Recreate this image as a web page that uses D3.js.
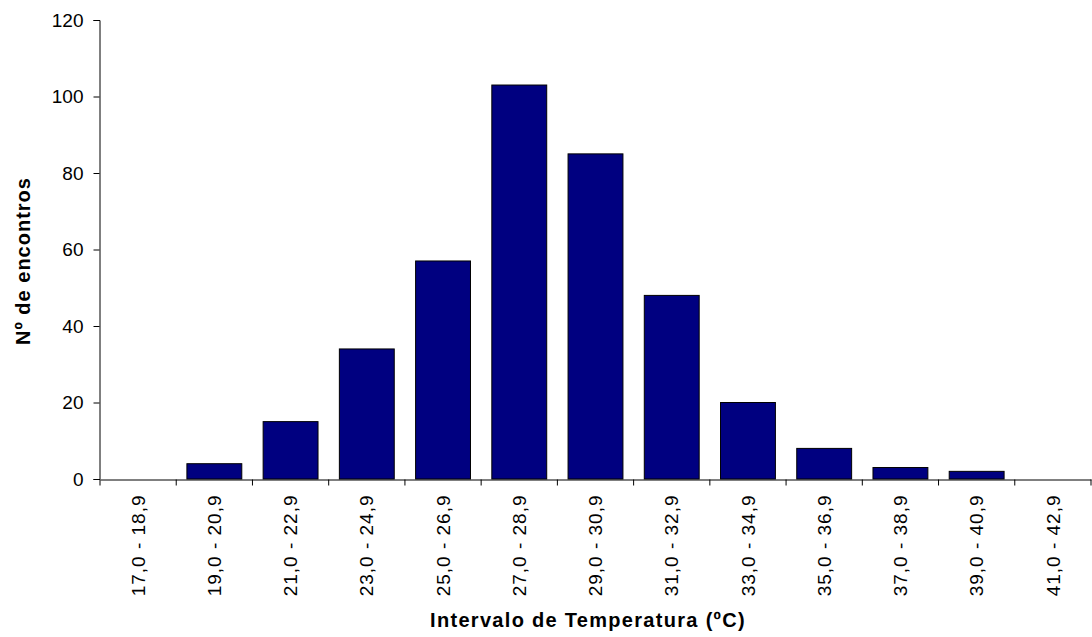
<!DOCTYPE html>
<html>
<head>
<meta charset="utf-8">
<script src="https://cdn.jsdelivr.net/npm/d3@7"></script>
<style>
  body { margin: 0; background: #fff; }
  svg { font-family: "Liberation Sans", Arial, sans-serif; }
</style>
</head>
<body>
<svg></svg>
<script>
// intervals of temperature and number of encounters
const intervals = ["17,0 - 18,9", "19,0 - 20,9", "21,0 - 22,9", "23,0 - 24,9", "25,0 - 26,9",
    "27,0 - 28,9", "29,0 - 30,9", "31,0 - 32,9", "33,0 - 34,9", "35,0 - 36,9",
    "37,0 - 38,9", "39,0 - 40,9", "41,0 - 42,9"];
const encontros = [0, 4, 15, 34, 57, 103, 85, 48, 20, 8, 3, 2, 0];
const yTicks = [0, 20, 40, 60, 80, 100, 120];

const width = 1092, height = 637;
const margin = { top: 20, right: 1, bottom: 158, left: 100 };

const svg = d3.select("svg").attr("width", width).attr("height", height);
const g = svg.append("g").attr("transform", `translate(${margin.left},${margin.top})`);

const w = width - margin.left - margin.right;
const h = height - margin.top - margin.bottom;

const x = d3.scaleBand().domain(intervals).range([0, w]).paddingInner(0.28).paddingOuter(0.14);
const y = d3.scaleLinear().domain([0, 120]).range([h, 0]);

// bars
g.selectAll("rect.bar")
    .data(encontros)
    .join("rect")
    .attr("class", "bar")
    .attr("x", (d, i) => x(intervals[i]))
    .attr("y", d => y(d))
    .attr("width", x.bandwidth())
    .attr("height", d => h - y(d))
    .style("fill", "#000080")
    .style("stroke", d => d > 0 ? "#000" : "none")
    .style("stroke-width", 1);

// y axis
const yAxis = g.append("g")
    .attr("transform", "translate(-0.5,0)")
    .call(d3.axisLeft(y).tickValues(yTicks).tickSize(6).tickPadding(10));
yAxis.select(".domain").attr("stroke", "#000");
yAxis.selectAll("text").style("font-size", "19px").attr("fill", "#000");

// x axis (labels at centre, ticks between categories)
const xAxis = g.append("g")
    .attr("transform", `translate(0,${h + 0.5})`)
    .call(d3.axisBottom(x).tickSize(0).tickSizeOuter(0));
xAxis.select(".domain").attr("stroke", "#000");
xAxis.selectAll("text")
    .style("font-size", "19px")
    .style("letter-spacing", "1px")
    .attr("fill", "#000")
    .attr("text-anchor", "end")
    .attr("transform", "rotate(-90)")
    .attr("x", -15)
    .attr("y", 0)
    .attr("dy", "0.35em");

const step = x.step();
xAxis.selectAll("line.sep")
    .data(d3.range(intervals.length + 1))
    .join("line")
    .attr("class", "sep")
    .attr("x1", i => i * step)
    .attr("x2", i => i * step)
    .attr("y1", 0)
    .attr("y2", 6)
    .attr("stroke", "#000");

// axis titles
svg.append("text")
    .attr("x", 588)
    .attr("y", 627)
    .attr("text-anchor", "middle")
    .style("font-size", "20px")
    .style("font-weight", "bold")
    .style("letter-spacing", "1.3px")
    .text("Intervalo de Temperatura (ºC)");

svg.append("text")
    .attr("transform", "translate(30,261) rotate(-90)")
    .attr("text-anchor", "middle")
    .style("font-size", "20px")
    .style("font-weight", "bold")
    .style("letter-spacing", "1px")
    .text("Nº de encontros");
</script>
</body>
</html>
